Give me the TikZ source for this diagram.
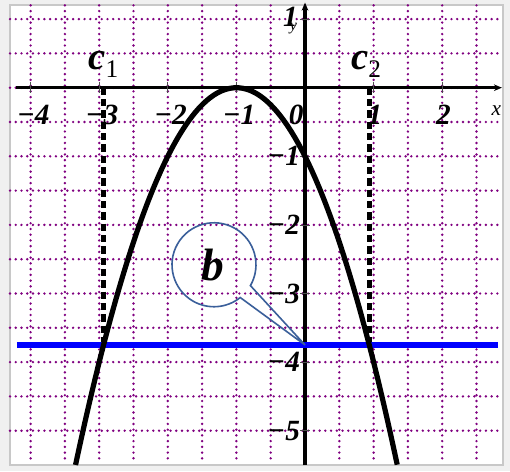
\documentclass[tikz,border=0pt]{standalone}
\usepackage{fontspec}
\setmainfont{Liberation Serif}
\usetikzlibrary{arrows.meta}
\definecolor{bggray}{HTML}{F0F0F0}
\definecolor{framegray}{HTML}{C8C8C8}
\definecolor{gridpurple}{HTML}{800080}
\definecolor{callblue}{HTML}{3A5F9A}
\tikzset{
  gridline/.style={gridpurple, line width=2pt, line cap=round, dash pattern=on 0pt off 4.3pt},
  axisline/.style={black, line width=2.5pt},
  tickmark/.style={black!70, line width=0.6pt},
  ticklab/.style={font=\fontsize{22}{22}\selectfont\bfseries\itshape, inner sep=0pt},
  curveline/.style={black, line width=3.9pt},
  levelline/.style={blue, line width=3.9pt},
  dropline/.style={black, line width=3.4pt, dash pattern=on 5.5pt off 3pt},
  clab/.style={inner sep=0pt},
  callout/.style={callblue, line width=1.2pt}
}
\begin{document}
\begin{tikzpicture}[x=0.75pt,y=0.75pt]
\useasboundingbox (0,-471) rectangle (510,0);
\fill[bggray] (0,-471) rectangle (510,0);
\filldraw[fill=white, draw=framegray, line width=1.2pt] (10,-465) rectangle (503,-5);
\begin{scope}[shift={(305,-87.7)}, x=51.45pt, y=51.45pt]
  % grid
  \foreach \gx in {-4,-3.5,...,2.6} \draw[gridline] (\gx,1.2) -- (\gx,-5.48);
  \foreach \gy in {1,0.5,...,-5.1} \draw[gridline] (-4.3,\gy) -- (2.87,\gy);
  % axes
  \draw[axisline, -{Stealth[length=6pt,width=5pt,fill=black!60]}] (-4.22,0) -- (2.87,0);
  \draw[axisline, -{Stealth[length=6pt,width=5pt,fill=black!60]}] (0,-5.5) -- (0,1.24);
  % ticks
  \foreach \tx in {-4,-3,-2,-1,1,2} \draw[tickmark] (\tx,0.08) -- (\tx,-0.08);
  \foreach \ty in {1,-1,-2,-3,-4,-5} \draw[tickmark] (-0.08,\ty) -- (0.08,\ty);
  % tick labels
  \node[ticklab] (xm4) at (-3.96,-0.40) {−4};
  \node[ticklab] (xm3) at (-2.96,-0.40) {−3};
  \node[ticklab] (xm2) at (-1.96,-0.40) {−2};
  \node[ticklab] (xm1) at (-0.96,-0.40) {−1};
  \node[ticklab] (x0) at (-0.13,-0.40) {0};
  \node[ticklab] (x1) at (1.02,-0.40) {1};
  \node[ticklab] (x2) at (2.02,-0.40) {2};
  \node[ticklab, anchor=east] (y1) at (-0.1,1.03) {1};
  \node[ticklab, anchor=east] (ym1) at (-0.07,-1.0) {−1};
  \node[ticklab, anchor=east] (ym2) at (-0.07,-2.0) {−2};
  \node[ticklab, anchor=east] (ym3) at (-0.07,-3.0) {−3};
  \node[ticklab, anchor=east] (ym4) at (-0.07,-4.0) {−4};
  \node[ticklab, anchor=east] (ym5) at (-0.07,-5.0) {−5};
  \node[font=\fontsize{12}{12}\selectfont\itshape, inner sep=0pt] (ylab) at (-0.17,0.86) {y};
  \node[font=\fontsize{16}{16}\selectfont\itshape, inner sep=0pt] (xlab) at (2.79,-0.33) {x};
  % drop lines
  \draw[dropline] (-2.9365,0) -- (-2.9365,-3.75);
  \draw[dropline] (0.9365,0) -- (0.9365,-3.75);
  % level line
  \draw[levelline] (-4.2,-3.75) -- (2.81,-3.75);
  % parabola
  \draw[curveline] plot[domain=-3.345:1.345, samples=80, smooth] (\x,{-(\x+1)^2});
  % c labels
  \node[clab] (c1) at (-2.94,0.34) {\fontsize{29}{29}\selectfont\bfseries\itshape c\raisebox{-0.45ex}{\fontsize{19}{19}\selectfont\mdseries\upshape 1}};
  \node[clab] (c2) at (0.89,0.34) {\fontsize{29}{29}\selectfont\bfseries\itshape c\raisebox{-0.45ex}{\fontsize{19}{19}\selectfont\mdseries\upshape 2}};
  % callout
  \coordinate (tip) at (0,-3.75);
  \node[circle, minimum size=1.23cm*51.45/28.45, inner sep=0pt, font=\fontsize{34}{34}\selectfont\bfseries\itshape] (bcall) at (-1.337,-2.585) {b};
  \draw[callout] (bcall.-29.8) arc[start angle=-29.8, end angle=308.7, radius=0.612] -- (tip) -- cycle;
\end{scope}
\end{tikzpicture}
\end{document}
